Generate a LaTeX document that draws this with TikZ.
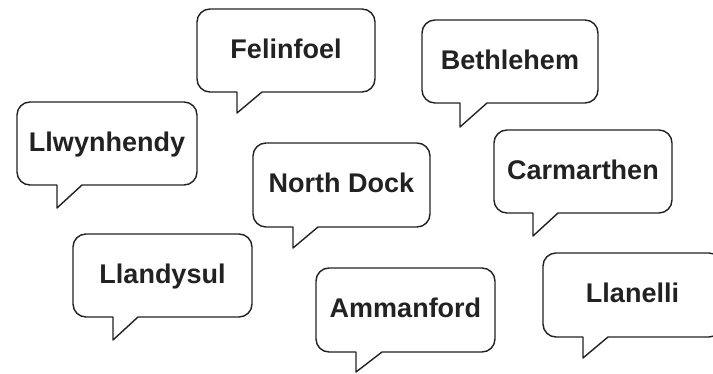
\documentclass[tikz,border=0pt]{standalone}
\usepackage{fontspec}
\setmainfont{Liberation Sans}
\definecolor{ink}{HTML}{222222}
\tikzset{
  bubbleline/.style={draw=ink, line width=1.4pt, line join=round, fill=white},
  bubtext/.style={anchor=base, inner sep=0pt, text=ink, font=\fontsize{27}{30}\selectfont\bfseries}
}
% #1 name, #2 left, #3 top, #4 right, #5 bottom, #6 tail x, #7 tip y, #8 attach x, #9 text
\newcommand\bub[9]{%
  \draw[bubbleline] (#6,#5) -- ({#2+13},#5) arc[start angle=90,end angle=180,radius=13]
    -- (#2,{#3+13}) arc[start angle=180,end angle=270,radius=13]
    -- ({#4-13},#3) arc[start angle=270,end angle=360,radius=13]
    -- (#4,{#5-13}) arc[start angle=0,end angle=90,radius=13]
    -- (#8,#5) -- (#6,#7) -- cycle;
  \node[bubtext] (#1) at ({(#2+#4)/2},{(#3+#5)/2+8}) {#9};}
\begin{document}
\begin{tikzpicture}[x=1pt,y=-1pt]
\useasboundingbox (0,0) rectangle (713,374);
\clip (0,0) rectangle (713,374);
\bub{felinfoel}{197}{9}{375}{92}{237}{113}{262}{Felinfoel}
\bub{llwynhendy}{17}{102}{197}{185}{57}{208}{82}{Llwynhendy}
\bub{bethlehem}{422}{20}{598}{103}{460}{127}{487}{Bethlehem}
\bub{northdock}{253}{143}{430}{227}{293}{248}{318}{North Dock}
\bub{carmarthen}{494}{130}{672}{213}{533}{236}{558}{Carmarthen}
\bub{llandysul}{73}{234}{252}{317}{113}{340}{138}{Llandysul}
\bub{ammanford}{316}{268}{495}{352}{356}{372}{382}{Ammanford}
\bub{llanelli}{543}{253}{722}{337}{583}{358}{608}{Llanelli}
\end{tikzpicture}
\end{document}
